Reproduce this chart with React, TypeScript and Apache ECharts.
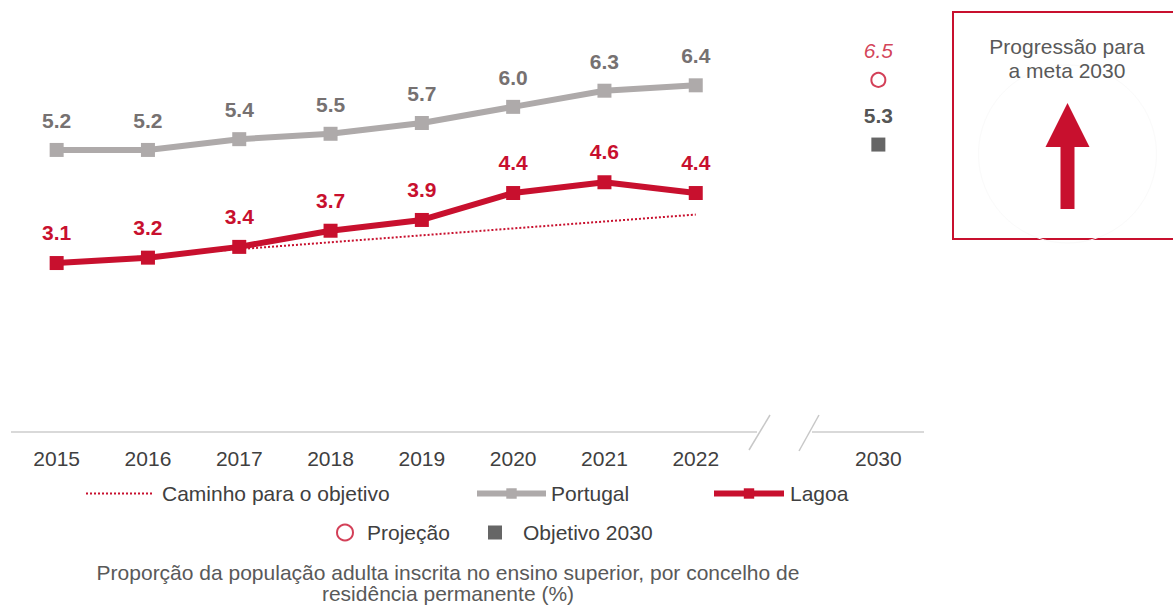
import React, { useEffect, useRef } from "react";
import * as echarts from "echarts";

const years = ["2015", "2016", "2017", "2018", "2019", "2020", "2021", "2022", "", "2030"];
const portugal = [5.2, 5.2, 5.4, 5.5, 5.7, 6.0, 6.3, 6.4];
const lagoa = [3.1, 3.2, 3.4, 3.7, 3.9, 4.4, 4.6, 4.4];
const pathYears = ["2015", "2022"];
const pathValues = [3.1, 4.0];
const projection = 6.5;
const objective = 5.3;
const targetYear = "2030";

const RED = "#C8102E";
const GRAY_LINE = "#AEAAAA";
const GRAY_LABEL = "#767171";
const FONT = "'Liberation Sans', Arial, sans-serif";

export default function App() {
  const ref = useRef<HTMLDivElement>(null);
  useEffect(() => {
    if (!ref.current) return;
    const chart = echarts.init(ref.current, null, { renderer: "svg" });
    const legendText = (pad: number) => ({
      fontSize: 21,
      color: "#404040",
      fontFamily: FONT,
      padding: [0, 0, 0, pad],
    });
    const option: any = {
      animation: false,
      textStyle: { fontFamily: FONT },
      grid: { left: 11, right: 249, top: 53, bottom: 177 },
      xAxis: {
        type: "category",
        data: years,
        boundaryGap: true,
        axisLine: { show: false },
        axisTick: { show: false },
        axisLabel: { color: "#404040", fontSize: 21, margin: 18, fontFamily: FONT, interval: 0 },
        splitLine: { show: false },
      },
      yAxis: { type: "value", min: 0, max: 7, show: false },
      legend: [
        {
          data: ["Caminho para o objetivo"],
          left: 85, top: 483, padding: 0, itemWidth: 68, itemHeight: 14,
          textStyle: legendText(3), selectedMode: false,
          itemStyle: { opacity: 0 },
          lineStyle: { width: 2, type: "dotted", color: RED, opacity: 1 },
        },
        {
          data: ["Portugal"],
          left: 474, top: 483, padding: 0, itemWidth: 69, itemHeight: 13,
          textStyle: legendText(0), selectedMode: false,
          lineStyle: { width: 6 },
        },
        {
          data: ["Lagoa"],
          left: 711, top: 483, padding: 0, itemWidth: 70, itemHeight: 13,
          textStyle: legendText(1), selectedMode: false,
          lineStyle: { width: 6 },
        },
        {
          data: ["Projeção"],
          left: 336, top: 522, padding: 0, itemWidth: 16, itemHeight: 16,
          textStyle: legendText(9), selectedMode: false,
        },
        {
          data: ["Objetivo 2030"],
          left: 488, top: 522, padding: 0, itemWidth: 14, itemHeight: 14,
          textStyle: legendText(16), selectedMode: false,
        },
      ],
      series: [
        {
          name: "Caminho para o objetivo",
          type: "line",
          data: pathYears.map((y, i) => [y, pathValues[i]]),
          symbol: "none",
          lineStyle: { color: RED, width: 2, type: "dotted" },
          itemStyle: { color: RED },
          z: 1,
        },
        {
          name: "Portugal",
          type: "line",
          data: portugal,
          symbol: "rect",
          symbolSize: 14,
          lineStyle: { color: GRAY_LINE, width: 6 },
          itemStyle: { color: GRAY_LINE },
          label: {
            show: true, position: "top", distance: 12,
            formatter: (p: any) => Number(p.value).toFixed(1),
            fontSize: 21, fontWeight: "bold", color: GRAY_LABEL, fontFamily: FONT,
          },
          z: 2,
        },
        {
          name: "Lagoa",
          type: "line",
          data: lagoa,
          symbol: "rect",
          symbolSize: 14,
          lineStyle: { color: RED, width: 6 },
          itemStyle: { color: RED },
          label: {
            show: true, position: "top", distance: 13,
            formatter: (p: any) => Number(p.value).toFixed(1),
            fontSize: 21, fontWeight: "bold", color: RED, fontFamily: FONT,
          },
          z: 3,
        },
        {
          name: "Projeção",
          type: "scatter",
          data: [[targetYear, projection]],
          symbol: "emptyCircle",
          symbolSize: 14,
          itemStyle: { color: RED, borderWidth: 2.5 },
          label: {
            show: true, position: "top", distance: 11,
            formatter: (p: any) => Number(p.value[1]).toFixed(1),
            fontSize: 21, fontStyle: "italic", color: RED, fontFamily: FONT,
          },
        },
        {
          name: "Objetivo 2030",
          type: "scatter",
          data: [[targetYear, objective]],
          symbol: "rect",
          symbolSize: 14,
          itemStyle: { color: "#404040" },
          label: {
            show: true, position: "top", distance: 12,
            formatter: (p: any) => Number(p.value[1]).toFixed(1),
            fontSize: 21, fontWeight: "bold", color: "#262626", fontFamily: FONT,
          },
        },
      ],
      graphic: [
        { type: "line", shape: { x1: 11, y1: 432, x2: 757, y2: 432 }, style: { stroke: "#D9D9D9", lineWidth: 2 } },
        { type: "line", shape: { x1: 812, y1: 432, x2: 924, y2: 432 }, style: { stroke: "#D9D9D9", lineWidth: 2 } },
        { type: "line", shape: { x1: 770, y1: 415, x2: 749, y2: 450 }, style: { stroke: "#C8C8C8", lineWidth: 1.5 } },
        { type: "line", shape: { x1: 819, y1: 415, x2: 799, y2: 451 }, style: { stroke: "#C8C8C8", lineWidth: 1.5 } },
        {
          type: "text",
          style: {
            x: 448, y: 561.5,
            text: "Proporção da população adulta inscrita no ensino superior, por concelho de\nresidência permanente (%)",
            textAlign: "center", textVerticalAlign: "top",
            fontSize: 21, lineHeight: 21, fill: "#595959", fontFamily: FONT,
          },
        },
        {
          type: "rect",
          shape: { x: 953, y: 12, width: 240, height: 227 },
          style: { fill: "none", stroke: RED, lineWidth: 2 },
        },
        {
          type: "circle",
          shape: { cx: 1067.5, cy: 154, r: 89 },
          style: { fill: "none", stroke: "#FAFAFA", lineWidth: 1 },
        },
        {
          type: "text",
          style: {
            x: 1067, y: 34,
            text: "Progressão para\na meta 2030",
            textAlign: "center", textVerticalAlign: "top",
            fontSize: 21, lineHeight: 24, fill: "#595959", fontFamily: FONT,
          },
        },
        {
          type: "polygon",
          shape: {
            points: [
              [1067.5, 103], [1089.5, 147], [1074.5, 147], [1074.5, 209],
              [1060.5, 209], [1060.5, 147], [1045.5, 147],
            ],
          },
          style: { fill: RED },
        },
      ],
    };
    chart.setOption(option);
    return () => chart.dispose();
  }, []);
  return (
    <div
      ref={ref}
      style={{ position: "absolute", left: 0, top: 0, width: 1173, height: 607, background: "#fff" }}
    />
  );
}
